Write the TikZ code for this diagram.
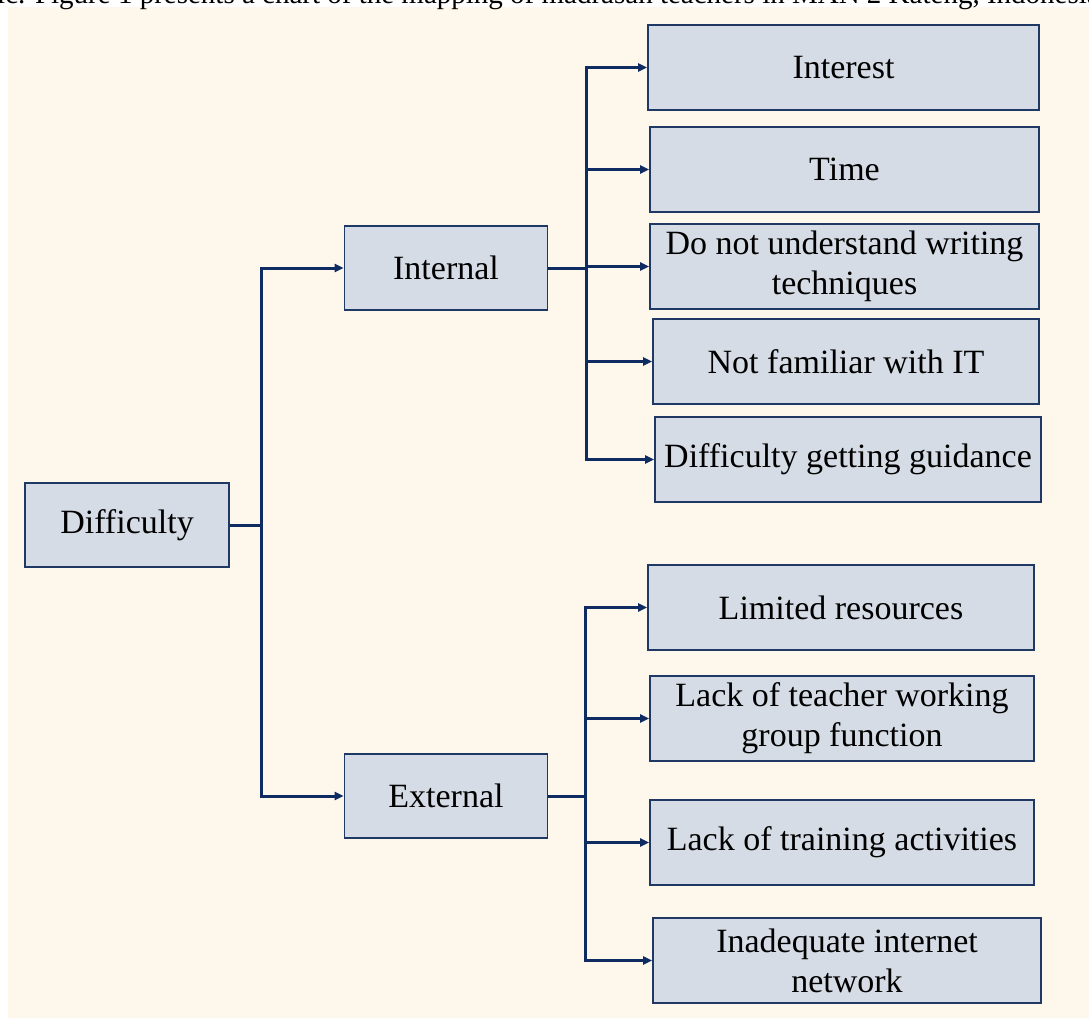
\documentclass[tikz,border=0pt]{standalone}
\usepackage{fontspec}
\setmainfont{Liberation Serif}
\usetikzlibrary{arrows.meta}
\definecolor{cream}{HTML}{FDF8EB}
\definecolor{boxfill}{HTML}{D6DCE5}
\definecolor{boxline}{HTML}{1F3864}
\definecolor{linkcol}{HTML}{0E2B62}
\begin{document}
\begin{tikzpicture}[x=1pt,y=-1pt,
	box/.style={draw=boxline,line width=1.8pt,fill=boxfill,inner sep=0pt,align=center,font=\fontsize{34}{40}\selectfont},
	link/.style={draw=linkcol,line width=3pt},
	arr/.style={link,-{Triangle[length=9pt,width=8pt]}}]
	\useasboundingbox (0,0) rectangle (1089,1018);
	\clip (0,0) rectangle (1089,1018);
	\fill[cream] (8,7) rectangle (1089,1018);
	\node[anchor=base west,inner sep=0pt,font=\fontsize{29}{34}\selectfont] (cap) at (-3,3) {ic. Figure 1 presents a chart of the mapping of madrasah teachers in MAN 2 Kateng, Indonesia};
	\draw
	(127,525) node[box,minimum width=204,minimum height=84](diff){Difficulty}
	(446,268) node[box,minimum width=203,minimum height=84](int){Internal}
	(446,796) node[box,minimum width=203,minimum height=84](ext){External};
	\draw
	(843.5,67.5) node[box,minimum width=391,minimum height=85](interest){Interest}
	(844.5,169.5) node[box,minimum width=389,minimum height=85](time){Time}
	(844.5,266.5) node[box,minimum width=389,minimum height=85](tech){Do not understand writing\\techniques}
	(846,361.5) node[box,minimum width=386,minimum height=85](it){Not familiar with IT}
	(848,459.5) node[box,minimum width=386,minimum height=85](guide){Difficulty getting guidance};
	\draw
	(841,607.5) node[box,minimum width=386,minimum height=85](res){Limited resources}
	(842,718.5) node[box,minimum width=384,minimum height=85](kkg){Lack of teacher working\\group function}
	(842,842.5) node[box,minimum width=384,minimum height=85](train){Lack of training activities}
	(847,960.5) node[box,minimum width=388,minimum height=85](net){Inadequate internet\\network};
	\coordinate (j1) at (261,525);
	\coordinate (j2) at (586,268);
	\coordinate (j3) at (585,796);
	\draw[link] (diff.east) -- (j1);
	\draw[arr] (j1) |- (int.west);
	\draw[arr] (j1) |- (ext.west);
	\draw[link] (int.east) -- (j2);
	\foreach \n in {interest,time,tech,it,guide}
		\draw[arr] (j2) |- (\n.west);
	\draw[link] (ext.east) -- (j3);
	\foreach \n in {res,kkg,train,net}
		\draw[arr] (j3) |- (\n.west);
\end{tikzpicture}
\end{document}
